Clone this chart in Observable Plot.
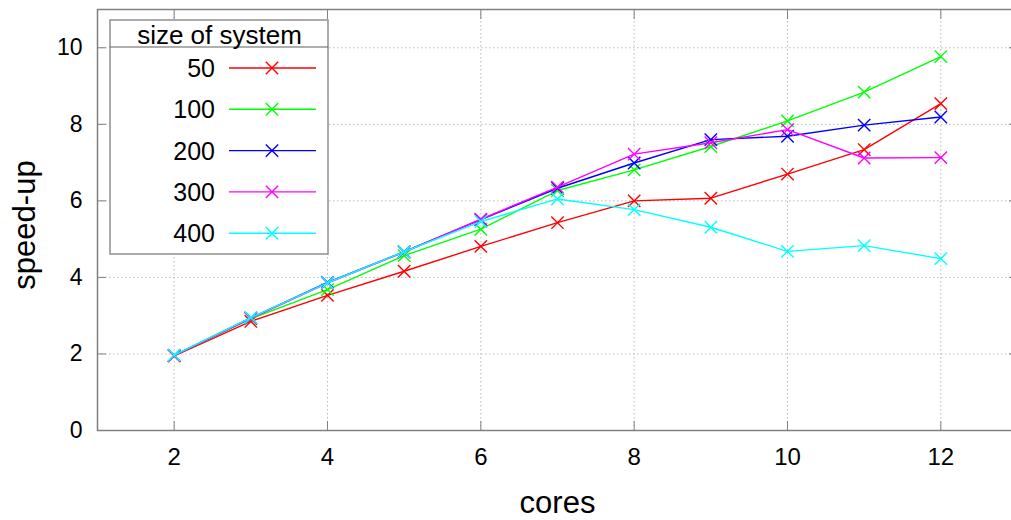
<!DOCTYPE html>
<html>
<head>
<meta charset="utf-8">
<script src="https://cdn.jsdelivr.net/npm/d3@7"></script>
<script src="https://cdn.jsdelivr.net/npm/@observablehq/plot@0.6"></script>
<style>
  html, body { margin: 0; padding: 0; background: white; overflow: hidden; }
  #wrap { position: relative; width: 1011px; height: 520px; font-family: "Liberation Sans", Arial, sans-serif; }
  #legend { position: absolute; left: 0; top: 0; }
</style>
</head>
<body>
<div id="wrap"></div>
<script>
// ---- data ----
const cores = [2, 3, 4, 5, 6, 7, 8, 9, 10, 11, 12];
const sizes = ["50", "100", "200", "300", "400"];
const colors = ["#ff0000", "#00ff00", "#0000ff", "#ff00ff", "#00ffff"];
const s50  = [1.95, 2.85, 3.53, 4.16, 4.81, 5.43, 6.00, 6.07, 6.70, 7.34, 8.54];
const s100 = [1.96, 2.92, 3.68, 4.57, 5.26, 6.27, 6.81, 7.42, 8.09, 8.84, 9.77];
const s200 = [1.96, 2.94, 3.87, 4.67, 5.51, 6.33, 6.99, 7.60, 7.69, 7.98, 8.19];
const s300 = [1.96, 2.93, 3.85, 4.66, 5.52, 6.36, 7.22, 7.52, 7.86, 7.12, 7.13];
const s400 = [1.97, 2.95, 3.86, 4.67, 5.46, 6.05, 5.77, 5.31, 4.68, 4.83, 4.49];
const xTicks = [2, 4, 6, 8, 10, 12];
const yTicks = [0, 2, 4, 6, 8, 10];
const xLabel = "cores";
const yLabel = "speed-up";
const legendTitle = "size of system";

const seriesValues = [s50, s100, s200, s300, s400];
const rows = sizes.flatMap((name, k) =>
  cores.map((c, i) => ({ cores: c, speedup: seriesValues[k][i], size: name })));

const gridStyle = { stroke: "#b8b8b8", strokeOpacity: 1, strokeDasharray: "1.5,2.5", strokeWidth: 1 };
const font = "'Liberation Sans', Arial, sans-serif";

const seriesMarks = sizes.flatMap(name => {
  const d = rows.filter(r => r.size === name);
  return [
    Plot.line(d, { x: "cores", y: "speedup", stroke: "size", strokeWidth: 1.4 }),
    Plot.dot(d, { x: "cores", y: "speedup", stroke: "size", symbol: "times", r: 5.7, strokeWidth: 1.4 })
  ];
});

const fig = Plot.plot({
  width: 1011,
  height: 520,
  marginLeft: 97,
  marginRight: -6,
  marginTop: 9,
  marginBottom: 90,
  style: { fontFamily: font, background: "white", overflow: "visible" },
  x: { domain: [1, 13] },
  y: { domain: [0, 11] },
  color: { domain: sizes, range: colors },
  marks: [
    Plot.gridX(xTicks, gridStyle),
    Plot.gridY(yTicks, gridStyle),
    Plot.axisX(xTicks, { anchor: "bottom", tickSize: -9, tickPadding: 26, fontSize: 24, label: null, stroke: "#808080", fill: "black" }),
    Plot.axisX(xTicks, { anchor: "top", tickSize: -9, tickFormat: () => "", label: null, stroke: "#808080" }),
    Plot.axisY(yTicks, { anchor: "left", tickSize: -9, tickPadding: 24, fontSize: 23, label: null, stroke: "#808080", fill: "black" }),
    Plot.axisY(yTicks, { anchor: "right", tickSize: -9, tickFormat: () => "", label: null, stroke: "#808080" }),
    Plot.frame({ stroke: "#808080", strokeWidth: 1.5 }),
    ...seriesMarks,
    Plot.text([xLabel], { frameAnchor: "bottom", textAnchor: "middle", dy: 73, fontSize: 31, fill: "black", lineAnchor: "middle" }),
    Plot.text([yLabel], { frameAnchor: "left", textAnchor: "middle", dx: -72, dy: 5, rotate: -90, fontSize: 31, fill: "black", lineAnchor: "middle" })
  ]
});

const wrap = document.getElementById("wrap");
wrap.appendChild(fig);

// ---- legend (overlay) ----
const L = { left: 110, top: 20, w: 218, h: 234, head: 27, rowTop: 48, rowGap: 41.3 };
const leg = d3.select(wrap).append("svg")
  .attr("id", "legend")
  .attr("width", 1011).attr("height", 520)
  .style("pointer-events", "none")
  .style("font-family", font);
const g = leg.append("g").attr("transform", `translate(${L.left},${L.top})`);
g.append("rect").attr("x", 0).attr("y", 0).attr("width", L.w).attr("height", L.h)
  .attr("fill", "white").attr("stroke", "#909090").attr("stroke-width", 1.5);
g.append("line").attr("x1", 0).attr("x2", L.w).attr("y1", L.head).attr("y2", L.head)
  .attr("stroke", "#606060").attr("stroke-width", 1.2);
g.append("text").attr("x", L.w / 2 + 0.5).attr("y", L.head - 3.5).attr("text-anchor", "middle")
  .attr("font-size", 26).attr("fill", "black").text(legendTitle);
const sym = d3.symbol(d3.symbolTimes, Math.PI * 5.7 * 5.7)();
sizes.forEach((name, i) => {
  const cy = L.rowTop + i * L.rowGap;
  const row = g.append("g").attr("transform", `translate(0,${cy})`);
  row.append("text").attr("x", 105).attr("y", 0).attr("dy", "0.36em").attr("text-anchor", "end")
    .attr("font-size", 25).attr("fill", "black").text(name);
  row.append("line").attr("x1", 119).attr("x2", 206).attr("y1", 0).attr("y2", 0)
    .attr("stroke", colors[i]).attr("stroke-width", 1.4);
  row.append("path").attr("d", sym).attr("transform", "translate(162,0)")
    .attr("fill", "none").attr("stroke", colors[i]).attr("stroke-width", 1.4);
});
</script>
</body>
</html>
